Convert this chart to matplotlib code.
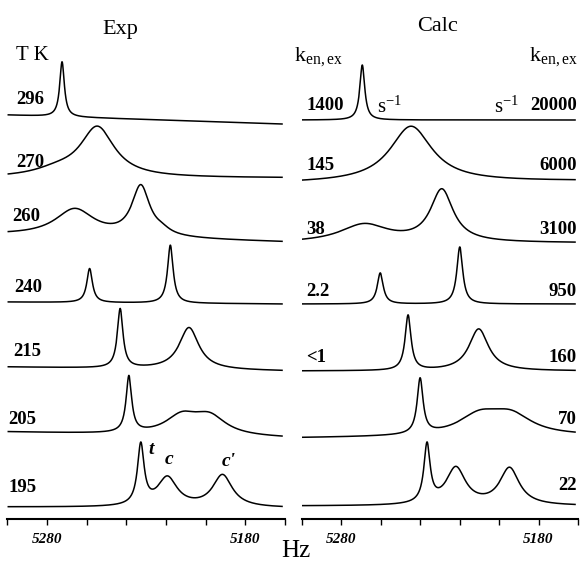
import numpy as np
import matplotlib
matplotlib.use("Agg")
import matplotlib.pyplot as plt

plt.rcParams['font.family'] = ['Liberation Serif', 'DejaVu Serif']
plt.rcParams['mathtext.fontset'] = 'stix'

# frequency axis (Hz), shown high -> low
f_hi, f_lo = 5299.5, 5161.5
tick_hz = [5300, 5280, 5260, 5240, 5220, 5200, 5180, 5160]
tick_text = ['', '5280', '', '', '', '', '5180', '']

# Experimental spectra: temperature (K) and peaks (centre Hz, half width Hz, height)
exp_temps = ['296', '270', '260', '240', '215', '205', '195']
exp_peaks = [
    [(5272.4, 1.4, 55)],
    [(5254.6, 10.5, 50), (5275, 14, 6)],
    [(5232.7, 5.5, 50), (5266.0, 12.0, 27), (5222.0, 5.0, 4)],
    [(5258.5, 1.7, 34), (5217.8, 1.7, 58)],
    [(5243.1, 1.7, 59), (5208.4, 6.0, 42)],
    [(5238.7, 1.7, 56), (5212.0, 10.0, 18), (5198.0, 10.0, 18)],
    [(5232.7, 2.0, 60), (5219.3, 6.0, 29), (5191.5, 6.0, 32)],
]

# Calculated spectra: rate constants k_en,ex (s^-1) and peaks
calc_k_left = ['1400', '145', '38', '2.2', '<1', '', '']
calc_k_right = ['20000', '6000', '3100', '950', '160', '70', '22']
calc_peaks = [
    [(5269.3, 1.5, 55)],
    [(5244.6, 13.0, 56)],
    [(5229.0, 7.0, 52), (5268.3, 15.0, 18)],
    [(5260.2, 1.8, 31), (5219.9, 1.8, 57)],
    [(5246.1, 1.8, 55), (5210.3, 6.0, 42)],
    [(5240.0, 1.8, 55), (5210.0, 13.0, 19), (5194.0, 13.0, 19)],
    [(5236.5, 1.9, 58), (5221.9, 6.0, 37), (5194.7, 6.0, 37)],
]

# layout (baseline heights above the axis, in pixels) and baseline drift
exp_offset = [404, 341, 284, 217, 152, 87, 12]
exp_tilt = [9, 0, 7, 2, 4, 6, 1]
calc_offset = [399, 336, 276, 215, 148, 81, 13]
calc_tilt = [0, -2, 0, 0, 0, -2, 0]

W, H = 584, 562
hz = np.linspace(f_lo, f_hi, 1500)


def spectrum(peaks):
    y = np.zeros_like(hz)
    for c, w, h in peaks:
        y += h / (1 + ((hz - c) / w) ** 2)
    return y


def fx(x):
    return x / W


def fy(y):
    return 1 - y / H


fig = plt.figure(figsize=(W / 100, H / 100), dpi=100)
ax_bottom = 519
ax_top = 40
ax_exp = fig.add_axes([fx(7.3), fy(ax_bottom), fx(285 - 7.3), (ax_bottom - ax_top) / H])
ax_calc = fig.add_axes([fx(301.7), fy(ax_bottom), fx(578 - 301.7), (ax_bottom - ax_top) / H])

for ax, peaks, offs, tilts in [(ax_exp, exp_peaks, exp_offset, exp_tilt),
                               (ax_calc, calc_peaks, calc_offset, calc_tilt)]:
    for pk, off, tl in zip(peaks, offs, tilts):
        base = off - tl * (f_hi - hz) / (f_hi - f_lo)
        ax.plot(hz, base + spectrum(pk), color='black', lw=1.1)
    ax.set_xlim(f_hi, f_lo)
    ax.set_ylim(0, ax_bottom - ax_top)
    for s in ['top', 'left', 'right']:
        ax.spines[s].set_visible(False)
    ax.spines['bottom'].set_linewidth(1.5)
    ax.set_yticks([])
    ax.set_xticks(tick_hz)
    ax.set_xticklabels(tick_text, fontsize=11, fontweight='bold', style='italic')
    ax.tick_params(axis='x', direction='out', length=4, width=1, pad=6)
    ax.patch.set_visible(False)

# titles and row labels
fig.text(fx(120), fy(34), 'Exp', fontsize=16, ha='center', va='baseline')
fig.text(fx(437), fy(31), 'Calc', fontsize=16, ha='center', va='baseline')
fig.text(fx(16), fy(60), 'T K', fontsize=15, ha='left', va='baseline')
fig.text(fx(294), fy(61), r'k$_{\mathregular{en,ex}}$', fontsize=16, ha='left', va='baseline')
fig.text(fx(578), fy(61), r'k$_{\mathregular{en,ex}}$', fontsize=16, ha='right', va='baseline')

exp_label_x = [16, 16, 12, 14, 13, 8, 8]
exp_label_y = [100, 162, 217, 287, 351, 420, 487]
for t, x, y in zip(exp_temps, exp_label_x, exp_label_y):
    fig.text(fx(x), fy(y), t, fontsize=13.5, fontweight='bold', ha='left', va='center')

calc_label_y = [106, 165, 229, 291, 358, 420, 486]
for kl, kr, y in zip(calc_k_left, calc_k_right, calc_label_y):
    if kl:
        fig.text(fx(306), fy(y), kl, fontsize=13.5, fontweight='bold', ha='left', va='center')
    fig.text(fx(577), fy(y), kr, fontsize=13.5, fontweight='bold', ha='right', va='center')

fig.text(fx(377), fy(113), r's$^{\mathregular{-1}}$', fontsize=15, ha='left', va='baseline')
fig.text(fx(494), fy(113), r's$^{\mathregular{-1}}$', fontsize=15, ha='left', va='baseline')

# peak assignments in the 195 K spectrum
for lab, x, y in [('t', 151, 450), ('c', 169, 460), ("c'", 229, 462)]:
    fig.text(fx(x), fy(y), lab, fontsize=14, style='italic', fontweight='bold',
             ha='center', va='center')

fig.text(fx(296), fy(551), 'Hz', fontsize=18, ha='center', va='center')

fig.savefig('out.png', dpi=100)
